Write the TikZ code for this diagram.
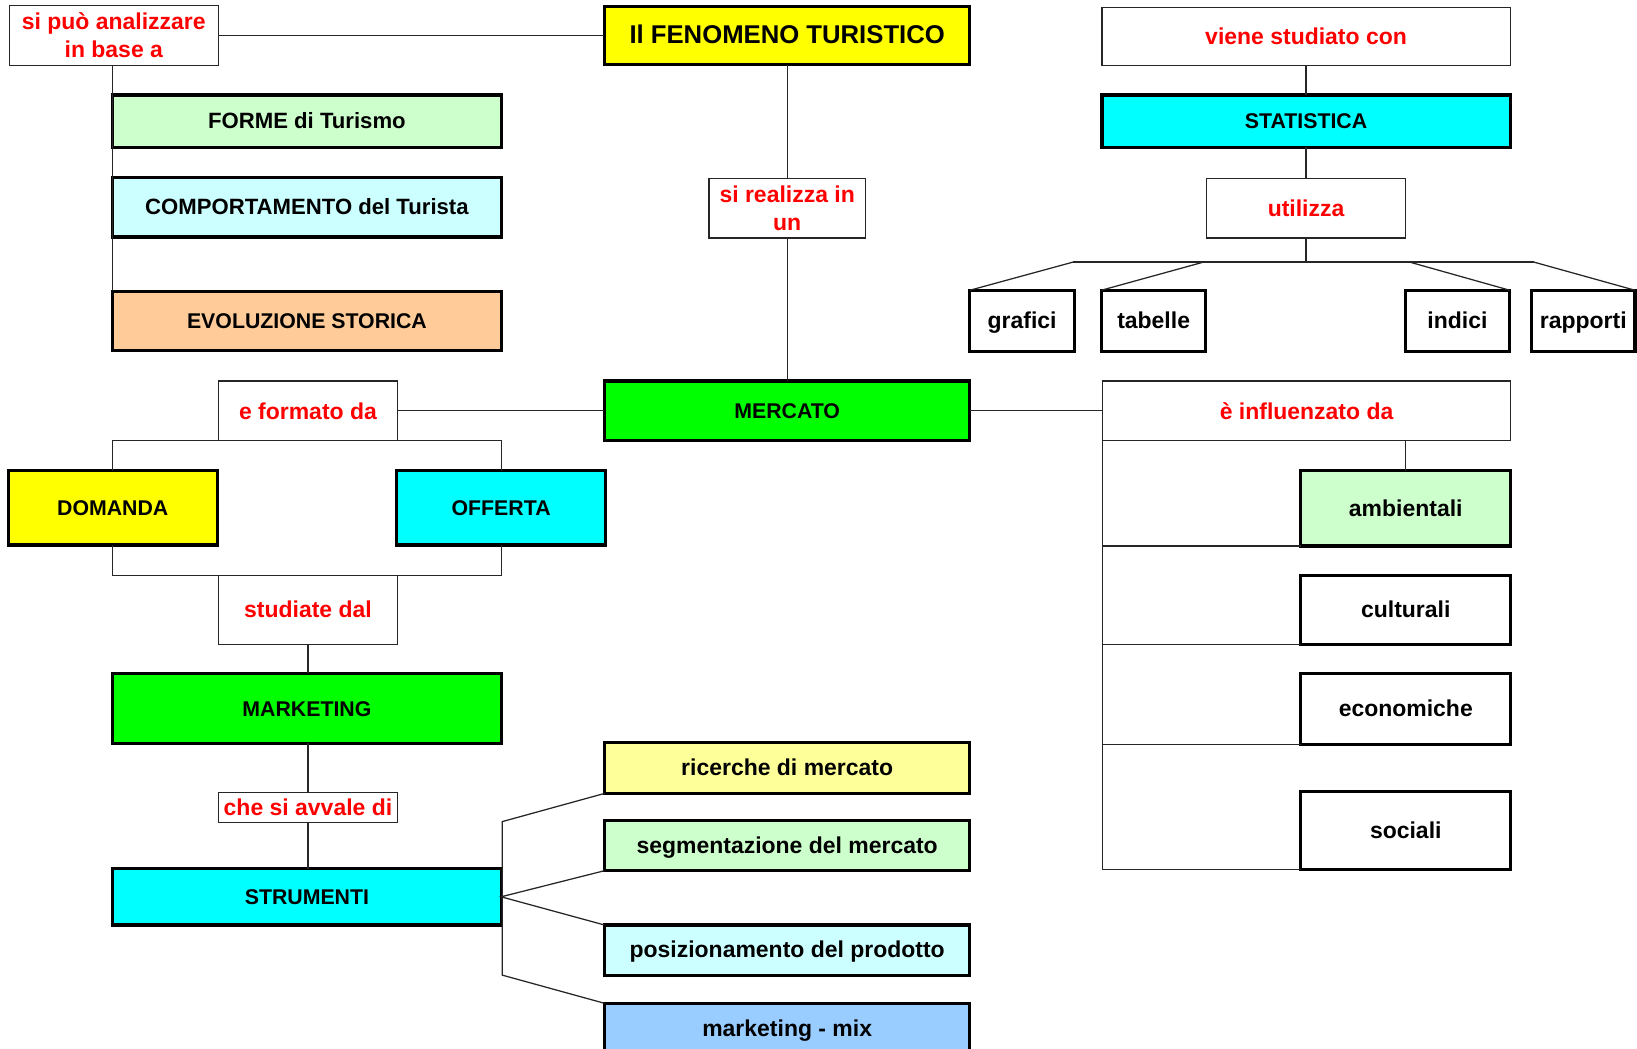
\documentclass[tikz,border=0pt]{standalone}
\usepackage{fontspec}
\setmainfont{Liberation Sans}
\definecolor{ylw}{HTML}{FFFF00}
\definecolor{paleylw}{HTML}{FFFF99}
\definecolor{palegreen}{HTML}{CCFFCC}
\definecolor{palecyan}{HTML}{CCFFFF}
\definecolor{peach}{HTML}{FFCC99}
\definecolor{aqua}{HTML}{00FFFF}
\definecolor{lime}{HTML}{00FF00}
\definecolor{skyblue}{HTML}{99CCFF}
\begin{document}
\begin{tikzpicture}[x=0.5pt,y=-0.5pt,
  every node/.style={inner sep=0pt, outer sep=0pt, align=center,
    font=\bfseries\fontsize{11}{13.5}\selectfont},
  sz/.style 2 args={minimum width=#1*0.5pt, minimum height=#2*0.5pt},
  concept/.style={draw=black, line width=1.5pt, fill=#1,
    text height=0.74em, text depth=0pt},
  concept/.default=white,
  linkbox/.style={draw=black!85, line width=0.6pt, fill=white, text=red},
  caps/.style={font=\bfseries\fontsize{10.2}{13}\selectfont},
  mixed/.style={font=\bfseries\fontsize{10.6}{13}\selectfont},
  title/.style={font=\bfseries\fontsize{12.3}{15}\selectfont},
  wire/.style={draw=black!85, line width=0.6pt}]
\clip (0,0) rectangle (1568,1004);
\fill[white] (0,0) rectangle (1568,1004);

% ---- top centre ----
\node[concept=ylw, title, sz={350}{56}] (fen) at (754,34) {Il FENOMENO TURISTICO};
\node[linkbox, sz={200}{58}] (sipuo) at (109,34) {si può analizzare\\in base a};
\node[concept=palegreen, mixed, sz={372}{50}] (forme) at (294,116) {FORME di Turismo};
\node[concept=palecyan, mixed, sz={372}{57}] (comp) at (294,198.5) {COMPORTAMENTO del Turista};
\node[concept=peach, caps, sz={372}{57}] (evol) at (294,307.5) {EVOLUZIONE STORICA};
\node[linkbox, sz={150}{57}] (realizza) at (754,199.5) {si realizza in\\un};
\node[concept=lime, caps, sz={350}{57}] (mercato) at (754,393.5) {MERCATO};

% ---- statistics branch ----
\node[linkbox, sz={391}{56}] (viene) at (1251,35) {viene studiato con};
\node[concept=aqua, caps, sz={391}{50}] (stat) at (1251,116) {STATISTICA};
\node[linkbox, sz={191}{57}] (utilizza) at (1251,199.5) {utilizza};
\node[concept, sz={100}{59}] (grafici) at (979,307.5) {grafici};
\node[concept, sz={100}{59}] (tabelle) at (1105,307.5) {tabelle};
\node[concept, sz={100}{59}] (indici) at (1396,307.5) {indici};
\node[concept, sz={99}{59}] (rapporti) at (1516.5,307.5) {rapporti};
\coordinate (tl) at (1028,251);
\coordinate (tml) at (1153,251);
\coordinate (tmr) at (1350,251);
\coordinate (tr) at (1469,251);

% ---- market composition ----
\node[linkbox, sz={172}{57}] (formato) at (295,393.5) {e formato da};
\node[concept=ylw, caps, sz={200}{71}] (domanda) at (108,486.5) {DOMANDA};
\node[concept=aqua, caps, sz={200}{71}] (offerta) at (480,486.5) {OFFERTA};
\node[linkbox, sz={172}{66}] (studiate) at (295,584) {studiate dal};
\node[concept=lime, caps, sz={372}{67}] (marketing) at (294,678.5) {MARKETING};
\node[linkbox, sz={172}{29}] (avvale) at (295,773.5) {che si avvale di};
\node[concept=aqua, caps, sz={372}{54}] (strumenti) at (294,859) {STRUMENTI};

% ---- tools ----
\node[concept=paleylw, sz={350}{49}] (ricerche) at (754,735.5) {ricerche di mercato};
\node[concept=palegreen, sz={350}{48}] (segment) at (754,810) {segmentazione del mercato};
\node[concept=palecyan, sz={350}{48}] (posiz) at (754,910) {posizionamento del prodotto};
\node[concept=skyblue, sz={350}{48}] (mix) at (754,985) {marketing - mix};
\coordinate (fu) at (481,787);
\coordinate (fd) at (481,934);

% ---- influences ----
\node[linkbox, sz={391}{57}] (influ) at (1251.5,393.5) {è influenzato da};
\node[concept=palegreen, sz={201}{72}] (ambient) at (1346.5,487) {ambientali};
\node[concept, sz={201}{66}] (cultur) at (1346.5,584) {culturali};
\node[concept, sz={201}{68}] (econ) at (1346.5,679) {economiche};
\node[concept, sz={201}{75}] (sociali) at (1346.5,795.5) {sociali};

% ---- connectors ----
\draw[wire] (sipuo.east) -- (fen.west);
\draw[wire] ([xshift=-0.5pt]sipuo.south) -- ([xshift=-0.5pt]sipuo.south |- evol.north);
\draw[wire] (fen.south) -- (realizza.north);
\draw[wire] (realizza.south) -- (mercato.north);

\draw[wire] (viene.south) -- (stat.north);
\draw[wire] (stat.south) -- (utilizza.north);
\draw[wire] (utilizza.south) -- (utilizza.south |- tl);
\draw[wire] (tl) -- (tr);
\draw[wire] (tl) -- (grafici.north west);
\draw[wire] (tml) -- (tabelle.north west);
\draw[wire] (tmr) -- (indici.north east);
\draw[wire] (tr) -- (rapporti.north east);

\draw[wire] (formato.east) -- (mercato.west);
\draw[wire] (domanda.north) -- (domanda.north |- formato.south)
  -- (offerta.north |- formato.south) -- (offerta.north);
\draw[wire] (domanda.south) -- (domanda.south |- studiate.north)
  -- (offerta.south |- studiate.north) -- (offerta.south);
\draw[wire] (studiate.south) -- (studiate.south |- marketing.north);
\draw[wire] (avvale.north |- marketing.south) -- (avvale.north);
\draw[wire] (avvale.south) -- (avvale.south |- strumenti.north);

\draw[wire] (ricerche.south west) -- (fu) -- (fd) -- (mix.north west);
\draw[wire] (segment.south west) -- (strumenti.east) -- (posiz.north west);

\draw[wire] (mercato.east) -- (influ.west);
\draw[wire] (influ.south west) -- (influ.south west |- sociali.south west) -- (sociali.south west);
\draw[wire] (ambient.south west) -- (ambient.south west -| influ.west);
\draw[wire] (cultur.south west) -- (cultur.south west -| influ.west);
\draw[wire] (econ.south west) -- (econ.south west -| influ.west);
\draw[wire] (ambient.north) -- (ambient.north |- influ.south);
\end{tikzpicture}
\end{document}
